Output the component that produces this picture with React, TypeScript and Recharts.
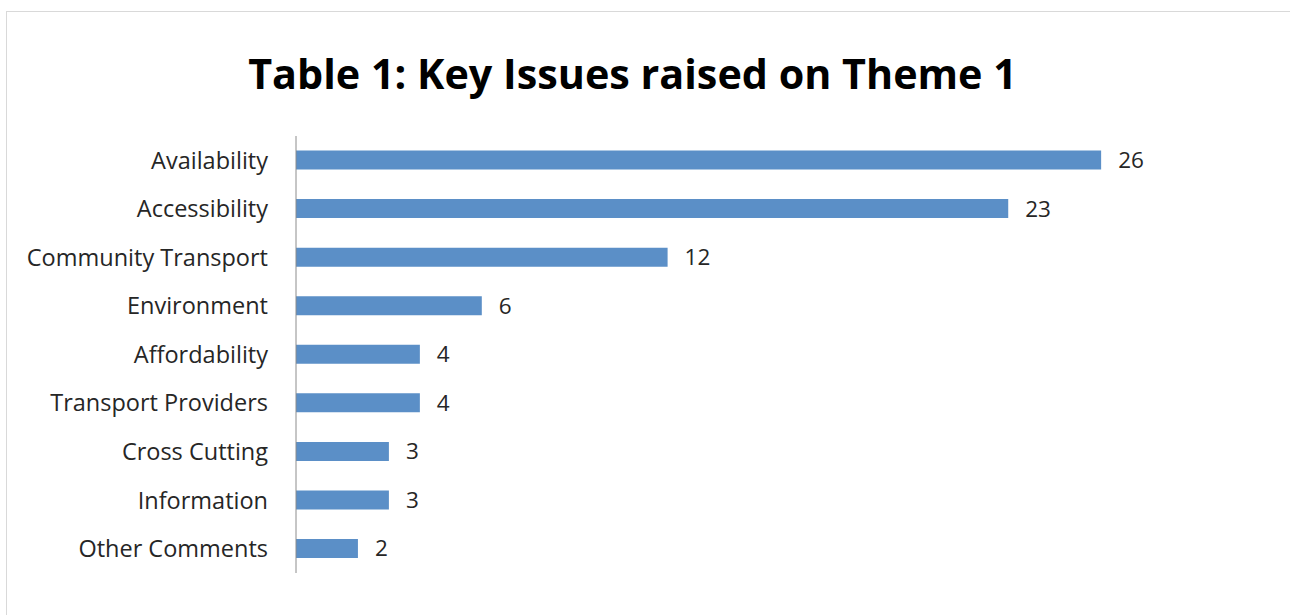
import React from 'react';
import { BarChart, Bar, XAxis, YAxis, LabelList } from 'recharts';

const categories = [
  'Availability',
  'Accessibility',
  'Community Transport',
  'Environment',
  'Affordability',
  'Transport Providers',
  'Cross Cutting',
  'Information',
  'Other Comments',
];
const counts = [26, 23, 12, 6, 4, 4, 3, 3, 2];
const title = 'Table 1: Key Issues raised on Theme 1';

const data = categories.map((name, i) => ({ name, value: counts[i] }));

const FONT = '"Open Sans", Lato, sans-serif';

export default function App() {
  return (
    <div style={{ position: 'absolute', left: 0, top: 0, width: 1290, height: 615, overflow: 'hidden', background: '#fff' }}>
      <div style={{ position: 'absolute', left: 6, top: 11, width: 1400, height: 800, border: '1px solid #d9d9d9', boxSizing: 'border-box' }} />
      <div style={{ position: 'absolute', left: 0, top: 45, width: 1265, textAlign: 'center', fontFamily: FONT, fontWeight: 700, fontSize: 41.3, lineHeight: '56px', color: '#000' }}>
        {title}
      </div>
      <div style={{ position: 'absolute', left: 0, top: 0 }}>
        <BarChart
          width={1290}
          height={615}
          data={data}
          layout="vertical"
          margin={{ top: 136, right: 65, bottom: 42, left: 0 }}
          barCategoryGap="30%"
        >
          <XAxis type="number" domain={[0, 30]} hide />
          <YAxis
            type="category"
            dataKey="name"
            width={296}
            tickLine={false}
            tickSize={0}
            tickMargin={28}
            axisLine={{ stroke: '#8c8c8c', strokeWidth: 1 }}
            tick={{ fill: '#262626', fontSize: 23.5, fontFamily: FONT }}
            interval={0}
          />
          <Bar dataKey="value" fill="#5b8fc7" isAnimationActive={false}>
            <LabelList dataKey="value" position="right" offset={17} fill="#262626" fontSize={22.5} fontFamily={FONT} />
          </Bar>
        </BarChart>
      </div>
    </div>
  );
}
